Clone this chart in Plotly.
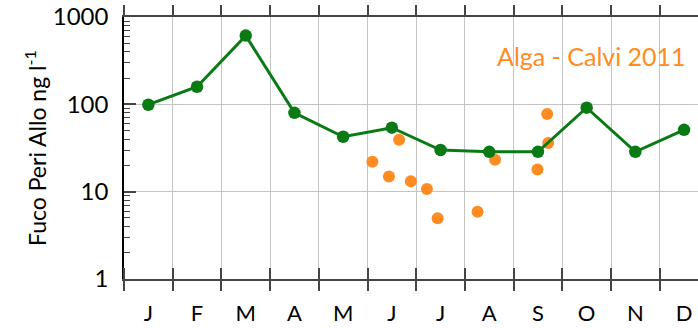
import plotly.graph_objects as go

months = ["J", "F", "M", "A", "M", "J", "J", "A", "S", "O", "N", "D"]
month_pos = [0.5, 1.5, 2.5, 3.5, 4.5, 5.5, 6.5, 7.5, 8.5, 9.5, 10.5, 11.5]

# Green monthly series
green_x = [0.5, 1.5, 2.5, 3.5, 4.5, 5.5, 6.5, 7.5, 8.5, 9.5, 10.5, 11.5]
green_y = [99, 159, 612, 80, 42.5, 54, 30, 28.6, 28.6, 91.5, 28.6, 51]

# Orange "Alga - Calvi 2011" samples
orange_x = [5.10, 5.44, 5.65, 5.89, 6.22, 6.44, 7.26, 7.62, 8.49, 8.69, 8.71]
orange_y = [22.0, 14.9, 39.3, 13.2, 10.7, 4.97, 5.9, 23.2, 17.9, 77.4, 36.0]

font_family = "Lato, 'Noto Sans', sans-serif"
GREEN = "#0a7a15"
ORANGE = "#ff8c22"
XMAX = 574 / 48.7

fig = go.Figure()
fig.add_trace(go.Scatter(
    x=orange_x, y=orange_y, mode="markers",
    marker=dict(color=ORANGE, size=12), showlegend=False, hoverinfo="skip"))
fig.add_trace(go.Scatter(
    x=green_x, y=green_y, mode="lines+markers",
    line=dict(color=GREEN, width=3), marker=dict(color=GREEN, size=12.5),
    showlegend=False))
# invisible trace on overlay axis for inside ticks
fig.add_trace(go.Scatter(x=[0], y=[10], xaxis="x2", mode="markers",
                         marker=dict(opacity=0), showlegend=False, hoverinfo="skip"))

fig.update_layout(
    width=698, height=328,
    margin=dict(l=124, r=0, t=17, b=49),
    plot_bgcolor="white", paper_bgcolor="white",
    font=dict(family=font_family, color="black"),
    xaxis=dict(
        range=[0, XMAX], tickmode="array", tickvals=month_pos, ticktext=months,
        ticks="", showgrid=False, zeroline=False, automargin=False,
        tickfont=dict(size=22), ticklabelstandoff=14,
        showline=True, linecolor="#444", linewidth=1.5, mirror="ticks",
        minor=dict(tickmode="linear", tick0=0, dtick=1, ticks="outside", ticklen=10,
                   tickcolor="#444", tickwidth=1.5, showgrid=True,
                   gridcolor="#c4c4c4", gridwidth=1.2),
    ),
    xaxis2=dict(
        range=[0, XMAX], overlaying="x", anchor="y", side="bottom",
        showticklabels=False, showgrid=False, zeroline=False, ticks="",
        tickmode="array", tickvals=[], automargin=False,
        mirror="ticks",
        minor=dict(tickmode="linear", tick0=0, dtick=1, ticks="inside", ticklen=11,
                   tickcolor="#444", tickwidth=1.5, showgrid=False),
    ),
    yaxis=dict(
        type="log", range=[0, 3], tickmode="array",
        tickvals=[1, 10, 100, 1000], ticktext=["1", "10", "100", "1000"],
        ticks="inside", ticklen=12, tickcolor="#444", tickwidth=1.5,
        tickfont=dict(size=24), ticklabelstandoff=9, automargin=False,
        showgrid=True, gridcolor="#c4c4c4", gridwidth=1.2, zeroline=False,
        showline=True, linecolor="black", linewidth=1.5,
        minor=dict(tickmode="array",
                   tickvals=[v * d for d in (1, 10, 100) for v in range(2, 10)],
                   ticks="inside", ticklen=6, tickcolor="#444", tickwidth=1,
                   showgrid=False),
    ),
    annotations=[
        dict(text="Alga - Calvi 2011", xref="paper", yref="paper",
             x=(688 - 124) / 574, y=1 - (56 - 17) / 262, xanchor="right", yanchor="middle",
             showarrow=False, font=dict(size=25, color=ORANGE, family=font_family)),
        dict(text="Fuco Peri Allo ng l<sup>-1</sup>", xref="paper", yref="paper",
             x=(35 - 124) / 574, y=0.5, xanchor="center", yanchor="middle",
             textangle=-90, showarrow=False,
             font=dict(size=23, color="black", family=font_family)),
    ],
)

fig.write_html("out.html", config={"displayModeBar": False},
               post_script="document.body.style.margin='0';document.body.style.overflow='hidden';")
